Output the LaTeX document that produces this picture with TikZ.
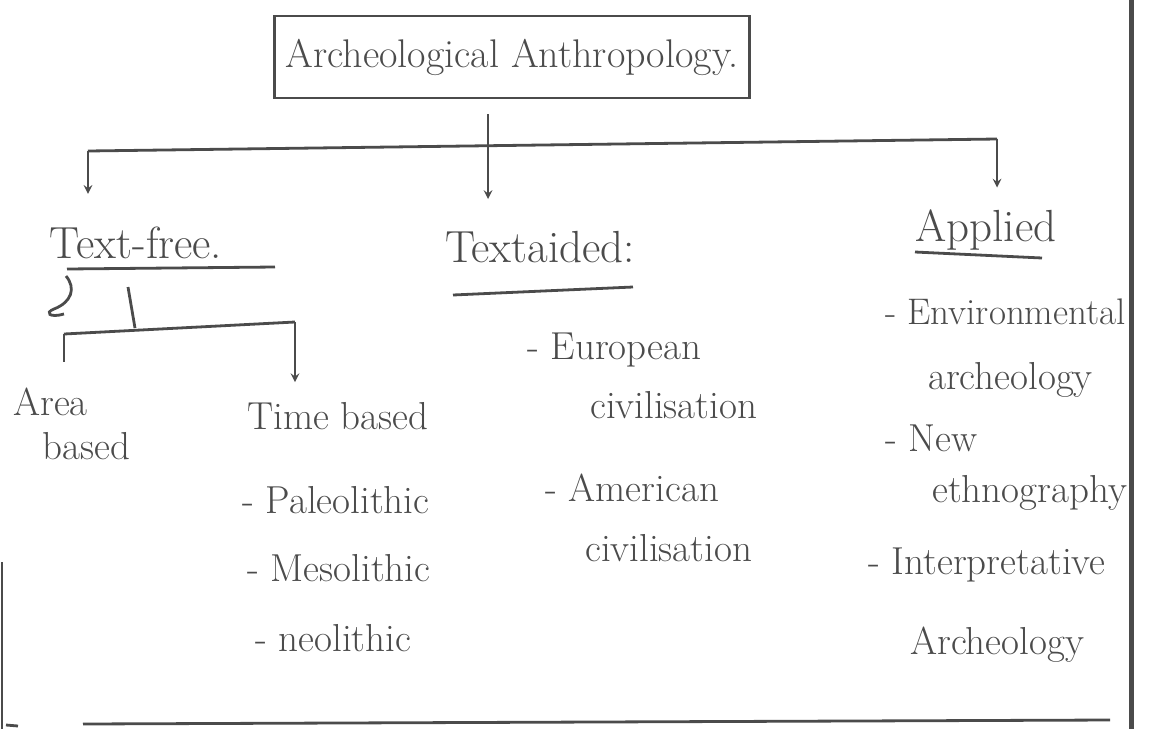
\documentclass[tikz,border=0pt]{standalone}
\usepackage{tikz}
\usetikzlibrary{arrows, positioning, calc}
\definecolor{ink}{RGB}{75,75,75}

\begin{document}
\begin{tikzpicture}[x=1pt, y=-1pt,
    title/.style={rectangle, draw=ink, line width=2.8pt, text=ink, font=\fontsize{40}{44}\selectfont, minimum width=475pt, minimum height=82pt, align=center},
    branch/.style={text=ink, font=\fontsize{45}{50}\selectfont, inner sep=0pt},
    item/.style={text=ink, font=\fontsize{39}{44}\selectfont, anchor=west, inner sep=0pt, align=left},
    line/.style={draw=ink, line width=2.8pt},
    arrow/.style={->, >=stealth, draw=ink, line width=2.8pt}
]
    \useasboundingbox (0,0) rectangle (1154,729);
    \fill[white] (0,0) rectangle (1154,729);

    % Archeological Anthropology tree
    \node[title] (arch) at (512,57) {Archeological Anthropology.};
    \node[branch] (free) at (136,243) {Text-free.};
    \node[branch] (aided) at (540,247) {Textaided:};
    \node[branch] (applied) at (986,230) {Applied};
    \node[item, anchor=north west] (area) at (13,388) {Area\\\hspace{0.75em}based};
    \node[item] (time) at (247,416) {Time based};
    \node[item] (paleo) at (242,500) {- Paleolithic};
    \node[item] (meso) at (247,568) {- Mesolithic};
    \node[item] (neo) at (255,638) {- neolithic};
    \node[item] (euro) at (527,350) {- European};
    \node[item] (euroc) at (590,405) {civilisation};
    \node[item] (amer) at (545,488) {- American};
    \node[item] (amerc) at (585,548) {civilisation};
    \node[item, font=\fontsize{37}{42}\selectfont] (env) at (885,312) {- Environmental};
    \node[item] (envc) at (928,380) {archeology};
    \node[item] (new) at (885,438) {- New};
    \node[item] (newc) at (932,493) {ethnography};
    \node[item] (interp) at (868,565) {- Interpretative};
    \node[item] (interpc) at (910,645) {Archeology};

    % Connections
    \coordinate (barL) at (88,151);
    \coordinate (barR) at (997,139);
    \coordinate (split) at (488,143);
    \draw[line] (barL) -- (barR);
    \draw[arrow, shorten >=33pt] (barL) -- (barL |- free.north);
    \draw[arrow, shorten <=15pt, shorten >=32pt] (split |- arch.south) -- (split |- aided.north);
    \draw[arrow, shorten >=22pt] (barR) -- (barR |- applied.north);

    % Text-free split
    \draw[line] (67,269) -- (275,267);
    \draw[line] (66,276) .. controls (76,288) and (72,302) .. (54,309) .. controls (44,313) and (50,318) .. (64,314);
    \coordinate (subL) at (64,334);
    \coordinate (subR) at (295,322);
    \draw[line] (128,287) -- (135,328);
    \draw[line] (subL) -- (subR);
    \draw[line, shorten >=26pt] (subL) -- (subL |- area.north);
    \draw[arrow, shorten >=20pt] (subR) -- (subR |- time.north);

    % Underlines
    \draw[line] (453,295) -- (633,287);
    \draw[line] (915,252) -- (1042,258);

    % Page edges
    \draw[line] (83,724) -- (1110,720);
    \draw[draw=ink, line width=1.5pt] (2,562) -- (2,729);
    \draw[line] (6,725) -- (18,726);
    \draw[draw=ink, line width=5pt] (1131,0) -- (1131,729);
\end{tikzpicture}
\end{document}
